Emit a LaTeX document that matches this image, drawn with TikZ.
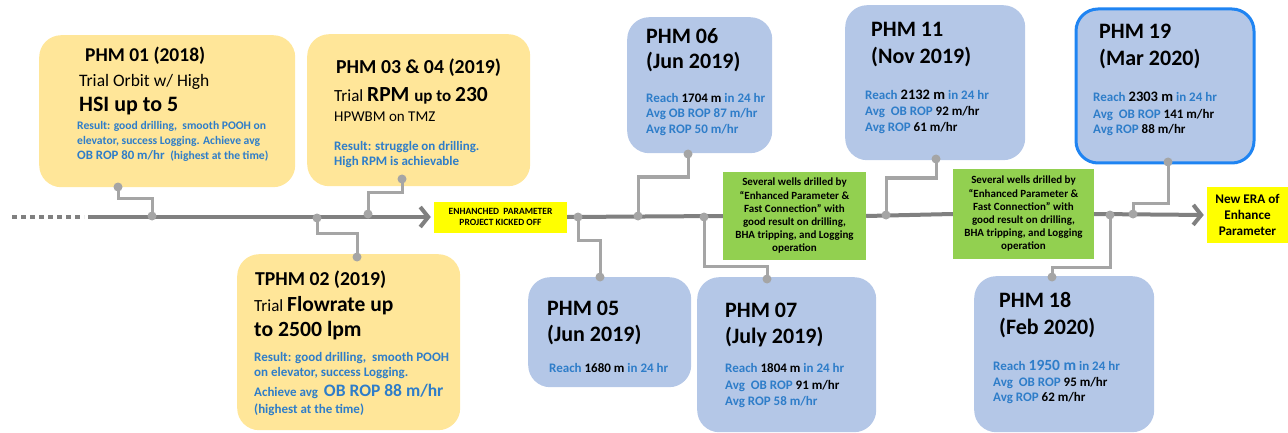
\documentclass[tikz,border=0pt]{standalone}
\usepackage{fontspec}
\setmainfont{Carlito}
\usetikzlibrary{arrows.meta}

\definecolor{boxyellow}{HTML}{FFE699}
\definecolor{boxblue}{HTML}{B4C7E7}
\definecolor{txtblue}{HTML}{2E7DC9}
\definecolor{linegray}{HTML}{808080}
\definecolor{conngray}{HTML}{A5A5A5}
\definecolor{okgreen}{HTML}{92D050}
\definecolor{hiyellow}{HTML}{FFFF00}
\definecolor{edgeblue}{HTML}{1F84F2}

\newcommand{\fsz}[1]{\fontsize{#1}{#1}\selectfont}
\newcommand{\blk}[1]{{\color{black}#1}}

\begin{document}
\begin{tikzpicture}[x=1pt, y=-1pt,
  ybox/.style={fill=boxyellow, rounded corners=22pt, anchor=north west, inner sep=0pt},
  bbox/.style={fill=boxblue, rounded corners=22pt, anchor=north west, inner sep=0pt},
  note/.style={fill=okgreen, minimum width=143pt, minimum height=88pt, inner sep=0pt,
    align=center, font=\bfseries\fontsize{11}{13.2}\selectfont},
  tag/.style={fill=hiyellow, align=center, inner sep=0pt},
  tx/.style={anchor=base west, inner sep=0pt},
  btx/.style={tx, text=txtblue, font=\bfseries\fsz{13}},
  ttl/.style={tx, font=\bfseries\fsz{22}},
  dot/.style={circle, fill=conngray, minimum size=9pt, inner sep=0pt},
  conn/.style={draw=conngray, line width=3pt},
  axis/.style={draw=linegray, line width=4pt}]

  \useasboundingbox (0,0) rectangle (1288,433);

  % Boxes above and below the time line
  \node[ybox, minimum width=256pt, minimum height=152pt] (phm01) at (39,35) {};
  \node[ybox, minimum width=223pt, minimum height=152pt] (phm03) at (307,34) {};
  \node[ybox, minimum width=223pt, minimum height=176pt] (tphm02) at (237,254) {};
  \node[bbox, minimum width=145pt, minimum height=136pt] (phm06) at (627,17) {};
  \node[bbox, minimum width=163pt, minimum height=110pt] (phm05) at (528,277) {};
  \node[bbox, minimum width=179pt, minimum height=155pt] (phm07) at (697,277) {};
  \node[bbox, minimum width=180pt, minimum height=155pt] (phm11) at (845,5) {};
  \node[bbox, minimum width=178pt, minimum height=154pt, draw=edgeblue, line width=3pt] (phm19) at (1074.5,7.5) {};
  \node[bbox, minimum width=180pt, minimum height=156pt] (phm18) at (974,276) {};

  % Milestones on the line
  \node[tag, minimum width=133pt, minimum height=31pt, font=\bfseries\fontsize{9.5}{10.5}\selectfont] (kick) at (500.5,217)
    {ENHANCHED\ \ PARAMETER\\PROJECT KICKED OFF};
  \node[note] (note1) at (794.5,216) {Several wells drilled by\\“Enhanced Parameter \&\\Fast Connection” with\\good result on drilling,\\BHA tripping,\ and Logging\\operation};
  \node[note, minimum width=141pt, minimum height=89pt] (note2) at (1023.5,214) {Several wells drilled by\\“Enhanced Parameter \&\\Fast Connection” with\\good result on drilling,\\BHA tripping,\ and Logging\\operation};
  \node[tag, minimum width=81pt, minimum height=56pt, font=\bfseries\fontsize{13.2}{16}\selectfont] (era) at (1247.5,215)
    {New ERA of\\Enhance\\Parameter};

  % Time line
  \coordinate (tail) at (12,217);
  \coordinate (head) at (84,217);
  \coordinate (t0) at (88,217);
  \draw[axis, dash pattern=on 5pt off 4pt] (tail) -- (head);
  \draw[axis, -{Straight Barb[length=8pt, width=20pt]}, shorten >=3pt] (t0) -- (t0 -| kick.west);
  \draw[axis] (kick.east) -- (note1.west);
  \draw[axis] (note1.east) -- (note2.west);
  \draw[axis, -{Straight Barb[length=8pt, width=20pt]}, shorten >=3pt] (note2.east) -- (era.west);

  % Connectors
  \node[dot] (d01) at (118,187) {};  \node[dot] (l01) at (152,216) {};
  \node[dot] (d03) at (402,179) {};  \node[dot] (l03) at (368,214) {};
  \node[dot] (l02) at (317,218) {};  \node[dot] (d02) at (357,257) {};
  \node[dot] (d06) at (688,154) {};  \node[dot] (l06) at (638,216) {};
  \node[dot] (l05) at (578,217) {};  \node[dot] (d05) at (600,277) {};
  \node[dot] (l07) at (704,217) {};  \node[dot] (d07) at (767,279) {};
  \node[dot] (d11) at (936,159) {};  \node[dot] (l11) at (886,215) {};
  \node[dot] (d19) at (1168,162) {}; \node[dot] (l19) at (1133,214) {};
  \node[dot] (l18) at (1110,215) {}; \node[dot] (d18) at (1052,277) {};
  \draw[conn] (d01.center) -- ++(0,11) -| (l01.center);
  \draw[conn] (d03.center) -- ++(0,13) -| (l03.center);
  \draw[conn] (l02.center) -- ++(0,15) -| (d02.center);
  \draw[conn] (d06.center) -- ++(0,23) -| (l06.center);
  \draw[conn] (l05.center) -- ++(0,23) -| (d05.center);
  \draw[conn] (l07.center) -- ++(0,49) -| (d07.center);
  \draw[conn] (d11.center) -- ++(0,19) -| (l11.center);
  \draw[conn] (d19.center) -- ++(0,41) -| (l19.center);
  \draw[conn] (l18.center) -- ++(0,52) -| (d18.center);

  % PHM 01
  \node[tx, font=\bfseries\fsz{19.5}] (p01a) at (85,62) {PHM 01 (2018)};
  \node[tx, font=\fsz{17.5}] (p01b) at (79,87) {Trial Orbit w/ High};
  \node[tx, font=\bfseries\fsz{22}] (p01c) at (79,112) {HSI up to 5};
  \node[btx, font=\bfseries\fsz{11.6}] (p01d) at (77,130) {Result: good drilling,\ \ smooth POOH on};
  \node[btx, font=\bfseries\fsz{11.6}] (p01e) at (77,144.5) {elevator, success Logging. Achieve avg};
  \node[btx, font=\bfseries\fsz{11.6}] (p01f) at (77,159.3) {{\fsz{12.8}OB ROP 80 m/hr\ \ }(highest at the time)};

  % PHM 03 & 04
  \node[tx, font=\bfseries\fsz{19.8}] (p03a) at (336,73.3) {PHM 03 \& 04 (2019)};
  \node[tx] (p03b) at (334,101.7) {{\fsz{17}Trial }{\bfseries\fsz{21.5}RPM }{\bfseries\fsz{17}up to }{\bfseries\fsz{21.5}230}};
  \node[tx, font=\fsz{15}] (p03c) at (334,121.7) {HPWBM on TMZ};
  \node[btx] (p03d) at (334,150) {Result: struggle on drilling.};
  \node[btx] (p03e) at (334,165.7) {High RPM is achievable};

  % TPHM 02
  \node[tx, font=\bfseries\fsz{19.7}] (p02a) at (255,285) {TPHM 02 (2019)};
  \node[tx] (p02b) at (254,311.7) {{\fsz{17}Trial }{\bfseries\fsz{21.5}Flowrate up}};
  \node[tx, font=\bfseries\fsz{21.7}] (p02c) at (254,336) {to 2500 lpm};
  \node[btx] (p02d) at (254,361.7) {Result: good drilling,\ \ smooth POOH};
  \node[btx] (p02e) at (254,376.7) {on elevator, success Logging.};
  \node[btx] (p02f) at (254,396.7) {Achieve avg\ \ {\fsz{17.5}OB ROP 88 m/hr}};
  \node[btx] (p02g) at (254,413.3) {(highest at the time)};

  % PHM 06
  \node[ttl] (p06a) at (646,43.3) {PHM 06};
  \node[ttl] (p06b) at (646,68.5) {(Jun 2019)};
  \node[btx] (p06c) at (646,102.7) {Reach \blk{1704 m} in 24 hr};
  \node[btx] (p06d) at (646,117.7) {Avg OB ROP 87 m/hr};
  \node[btx] (p06e) at (646,133.3) {Avg ROP 50 m/hr};

  % PHM 05
  \node[ttl] (p05a) at (547,315) {PHM 05};
  \node[ttl] (p05b) at (547,341.7) {(Jun 2019)};
  \node[btx] (p05c) at (549,372.3) {Reach \blk{1680 m} in 24 hr};

  % PHM 07
  \node[ttl] (p07a) at (725,317.3) {PHM 07};
  \node[ttl] (p07b) at (725,343.3) {(July 2019)};
  \node[btx] (p07c) at (725,372.3) {Reach \blk{1804 m} in 24 hr};
  \node[btx] (p07d) at (725,389) {Avg\ \ OB ROP \blk{91 m/hr}};
  \node[btx] (p07e) at (725,405) {Avg ROP 58 m/hr};

  % PHM 11
  \node[ttl] (p11a) at (871,36.7) {PHM 11};
  \node[ttl] (p11b) at (871,63.3) {(Nov 2019)};
  \node[btx] (p11c) at (865,100) {Reach \blk{\fsz{14.5}2132 m} in 24 hr};
  \node[btx] (p11d) at (865,116) {Avg\ \ OB ROP \blk{92 m/hr}};
  \node[btx] (p11e) at (865,131.7) {Avg ROP \blk{61 m/hr}};

  % PHM 19
  \node[ttl] (p19a) at (1099,38.3) {PHM 19};
  \node[ttl] (p19b) at (1099,66) {(Mar 2020)};
  \node[btx] (p19c) at (1093,101.7) {Reach \blk{\fsz{14.5}2303 m} in 24 hr};
  \node[btx] (p19d) at (1093,118.3) {Avg\ \ OB ROP \blk{141 m/hr}};
  \node[btx] (p19e) at (1093,134) {Avg ROP \blk{88 m/hr}};

  % PHM 18
  \node[ttl] (p18a) at (999,307.3) {PHM 18};
  \node[ttl] (p18b) at (999,334) {(Feb 2020)};
  \node[btx] (p18c) at (993,370.7) {Reach {\fsz{15.5}1950 m} in 24 hr};
  \node[btx] (p18d) at (993,386.7) {Avg\ \ OB ROP \blk{95 m/hr}};
  \node[btx] (p18e) at (993,401.7) {Avg ROP \blk{62 m/hr}};

\end{tikzpicture}
\end{document}
